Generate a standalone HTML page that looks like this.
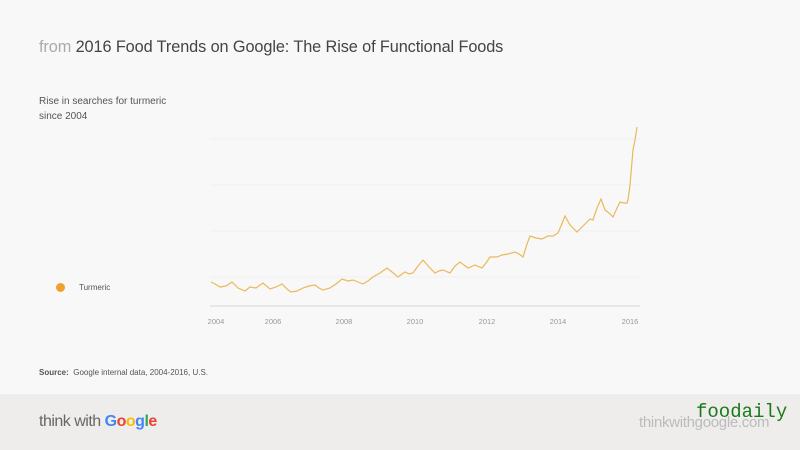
<!DOCTYPE html>
<html><head><meta charset="utf-8"><style>
body{margin:0;width:800px;height:450px;overflow:hidden;background:#f8f8f8;font-family:"Liberation Sans",sans-serif;position:relative}
.t{position:absolute;left:39px;top:38px;font-size:16.3px;color:#444;letter-spacing:-0.1px}
.t span{color:#aaa}
.sub{position:absolute;left:39px;top:94px;font-size:10px;line-height:15px;color:#555}
.leg{position:absolute;left:56px;top:283px;font-size:8px;color:#555}
.leg i{display:inline-block;width:9px;height:9px;border-radius:50%;background:#f0a030;vertical-align:middle;margin-right:14px}
.src{position:absolute;left:39px;top:368px;font-size:8px;color:#555}
.foot{position:absolute;left:0;top:394px;width:800px;height:56px;background:#eeedec}
.tw{position:absolute;left:39px;top:19px;font-size:16px;color:#666;letter-spacing:-0.5px}
.url{position:absolute;left:639px;top:20px;font-size:15px;color:#bbb;letter-spacing:-0.3px}
.fd{position:absolute;left:696px;top:7px;font-size:19px;color:#1a7a1a;font-family:"Liberation Mono",monospace}
</style></head><body>
<div class="t"><span>from</span> 2016 Food Trends on Google: The Rise of Functional Foods</div>
<div class="sub">Rise in searches for turmeric<br>since 2004</div>
<div class="leg"><i></i>Turmeric</div>
<svg width="800" height="450" style="position:absolute;left:0;top:0">
<g stroke="#f0f0f0" stroke-width="1"><line x1="210" y1="139" x2="640" y2="139"/><line x1="210" y1="185" x2="640" y2="185"/><line x1="210" y1="231" x2="640" y2="231"/><line x1="210" y1="277" x2="640" y2="277"/></g>
<line x1="210" y1="306" x2="640" y2="306" stroke="#e0e0e0" stroke-width="1.5"/>
<g font-size="7.5" fill="#999" text-anchor="middle" font-family="Liberation Sans,sans-serif">
<text x="216" y="324">2004</text><text x="273" y="324">2006</text><text x="344" y="324">2008</text><text x="415" y="324">2010</text><text x="487" y="324">2012</text><text x="558" y="324">2014</text><text x="630" y="324">2016</text></g>
<polyline fill="none" stroke="#eab95a" stroke-width="1.2" points="211,282 215,284 220,287 226,286 232,282 238,288 245,291 250,287 256,288 263,283 270,289 276,287 282,284 287,289 291,292 297,291 303,288 309,286 315,285 319,288 323,290 330,288 336,284 342,279 348,281 353,280 358,282 363,284 368,281 373,277 380,273 387,268 392,272 398,277 405,272 409,274 413,273 418,266 423,260 429,267 435,273 439,271 443,270 450,273 455,266 460,262 468,268 475,265 482,268 486,263 490,257 497,257 502,255 508,254 515,252 519,254 523,257 527,244 530,236 536,238 542,239 548,236 553,236 558,233 561,226 565,216 570,225 577,232 583,226 590,219 593,220 597,208 601,199 605,210 609,213 613,217 617,208 620,202 624,203 627,203 628,200 630,185 633,150 635,140 637,127"/>
</svg>
<div class="src"><b>Source:</b>&nbsp; Google internal data, 2004-2016, U.S.</div>
<div class="foot">
<div class="tw">think with <b style="letter-spacing:-0.5px"><span style="color:#4285f4">G</span><span style="color:#ea4335">o</span><span style="color:#fbbc05">o</span><span style="color:#4285f4">g</span><span style="color:#34a853">l</span><span style="color:#ea4335">e</span></b></div>
<div class="url">thinkwithgoogle.com</div>
<div class="fd">foodaily</div>
</div>
</body></html>
